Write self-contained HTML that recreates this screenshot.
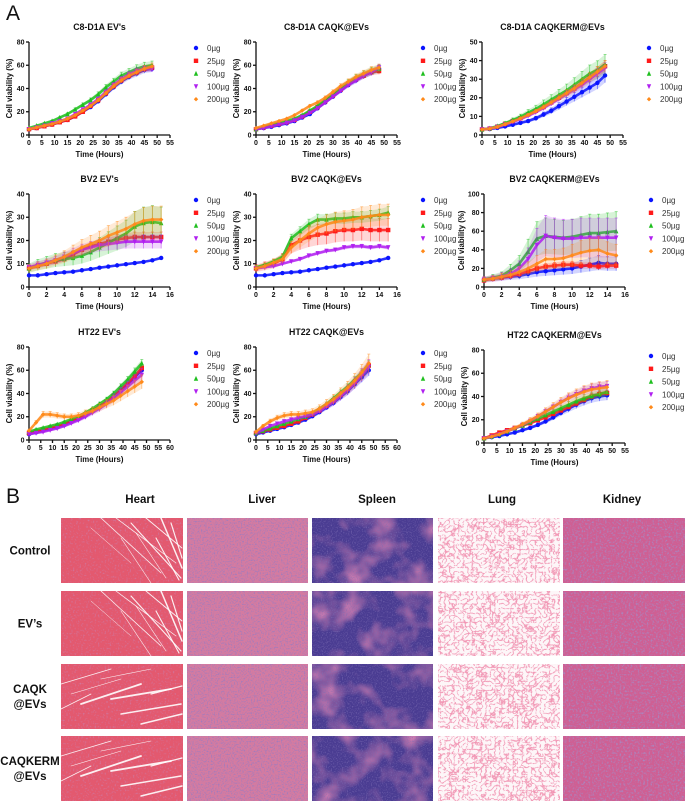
<!DOCTYPE html>
<html><head><meta charset="utf-8"><title>Cell viability and histology</title>
<style>
html,body{margin:0;padding:0;background:#fff;}
svg{display:block;font-family:"Liberation Sans",Arial,sans-serif;}
</style></head>
<body>
<svg id="fig" width="685" height="802" viewBox="0 0 685 802" xmlns="http://www.w3.org/2000/svg">
<defs>
<filter id="fHeart" x="0" y="0" width="1" height="1"><feTurbulence type="fractalNoise" baseFrequency="0.6" numOctaves="1" seed="3"/><feColorMatrix type="matrix" values="0 0 0 0 0.55 0 0 0 0 0.25 0 0 0 0 0.5 2.2 0 0 0 -1.2"/></filter>
<filter id="fLiver" x="0" y="0" width="1" height="1"><feTurbulence type="fractalNoise" baseFrequency="0.7" numOctaves="1" seed="5"/><feColorMatrix type="matrix" values="0 0 0 0 0.3 0 0 0 0 0.2 0 0 0 0 0.55 2.6 0 0 0 -1.2"/></filter>
<filter id="fSpleen" x="0" y="0" width="1" height="1"><feTurbulence type="fractalNoise" baseFrequency="0.035" numOctaves="3" seed="7"/><feColorMatrix type="matrix" values="0 0 0 0 0.68 0 0 0 0 0.22 0 0 0 0 0.45 2.2 0 0 0 -0.95"/></filter>
<filter id="fSpleenN" x="0" y="0" width="1" height="1"><feTurbulence type="fractalNoise" baseFrequency="0.8" numOctaves="1" seed="9"/><feColorMatrix type="matrix" values="0 0 0 0 0.2 0 0 0 0 0.15 0 0 0 0 0.45 2.4 0 0 0 -1.2"/></filter>
<filter id="fLung" x="0" y="0" width="1" height="1"><feTurbulence type="turbulence" baseFrequency="0.22" numOctaves="2" seed="11"/><feColorMatrix type="matrix" values="0 0 0 0 0.88 0 0 0 0 0.3 0 0 0 0 0.45 -5 0 0 0 1.3"/></filter>
<filter id="fKidney" x="0" y="0" width="1" height="1"><feTurbulence type="fractalNoise" baseFrequency="0.55" numOctaves="2" seed="13"/><feColorMatrix type="matrix" values="0 0 0 0 0.35 0 0 0 0 0.28 0 0 0 0 0.6 2.4 0 0 0 -1.15"/></filter>
</defs>
<text x="6" y="20" font-size="21" fill="#111">A</text>
<text x="6" y="503" font-size="21" fill="#111">B</text>
<g id="charts"></g>
<g id="histo"></g>
</svg>
<script>
// ---- shared time axes ----
const t48 = [0,3,6,9,12,15,18,21,24,27,30,33,36,39,42,45,48];
const t15 = [0,1,2,3,4,5,6,7,8,9,10,11,12,13,14,15];
const doseLabels = ["0µg","25µg","50µg","100µg","200µg"];

// ---- C8-D1A EV's ----
const c8ev_0   = [5,6,7.5,9,11,13,16,20,24,29,35,41,46,50,53,56,57];
const c8ev_25  = [5,6,7.5,9,11,13,16,20,25,30,36,42,47,51,54,57,58];
const c8ev_50  = [6,8,10,12,15,18,22,26,30,35,41,46,51,54,57,59,60];
const c8ev_100 = [5,6.5,8,10,12,14,18,22,26,31,37,43,48,52,55,57,57];
const c8ev_200 = [5,6.5,8,9.5,11.5,14,17,21,25,30,36,42,47,51,54,57,59];
// ---- C8-D1A CAQK@EVs ----
const c8cq_0   = [5,6,7,8.5,10,12,15,18,23,28,33,38,43,47,51,54,57];
const c8cq_25  = [5,6.5,8,9.5,11,13,16,20,24,29,34,39,44,48,51,54,55];
const c8cq_50  = [5,7,9,10.5,12,14,17,21,25,30,35,40,45,49,52,55,57];
const c8cq_100 = [5,6,7.5,9,10.5,12.5,15.5,19,23,28,33,38,43,47,51,54,58];
const c8cq_200 = [6,8,10,12,14,17,21,25,28,32,37,42,46,50,53,56,58];
// ---- C8-D1A CAQKERM@EVs ----
const c8ke_0   = [3,3.2,3.8,4.6,5.5,6.5,7.5,9,11,13,15.5,18,20.5,23,25.5,28,32];
const c8ke_25  = [3,3.5,4.5,6,7.5,9,11,13,15,17.5,20,22.5,25,28,31,34,37];
const c8ke_50  = [3,3.6,4.8,6.3,8,9.8,12,14,16.5,19,21.5,24,27,30,33,35,38];
const c8ke_100 = [3,3.4,4.3,5.6,7,8.5,10.3,12.3,14.5,17,19.5,22,24.5,27,30,33,36];
const c8ke_200 = [3,3.4,4.4,5.8,7.3,8.9,10.8,12.8,15,17.5,20,22.5,25,28,31,34,37];
// ---- BV2 EV's ----
const bvev_0   = [5,5,5.5,6,6.3,6.6,7.2,7.7,8.3,8.8,9.3,9.8,10.3,10.8,11.5,12.5];
const bvev_25  = [8,9,10,11,12,14,16,17.5,18.5,19.5,20.5,21,21.5,21.5,21.5,21.5];
const bvev_50  = [8,9.5,10.5,11.5,12,12.5,13.5,15,17,19,21,23,26,27.5,28,27.5];
const bvev_100 = [8.5,9.5,10.5,11.5,13,14.5,16,17,18,18.5,19,19.5,19.5,19.5,19.5,19.5];
const bvev_200 = [8,9,10,11.5,13,15,17,18.5,20,22,23.5,25,27,28.5,29,29];
// ---- BV2 CAQK@EVs ----
const bvcq_0   = [5,5,5.5,6,6.3,6.6,7.2,7.7,8.3,8.8,9.3,9.8,10.3,10.8,11.5,12.5];
const bvcq_25  = [8,9,10,12,18,20,21.5,22.5,23,24,24.5,24.5,25,24.5,24.5,24.5];
const bvcq_50  = [8.5,9.5,11,13,21,24,27,29,29,29.5,29.5,30,30,30.5,31,32];
const bvcq_100 = [8,8.5,9,10,11,12,13.5,14.5,15.5,16,17,17.5,17.5,17,17.5,17];
const bvcq_200 = [8,9,10.5,12,17,20,23,25.5,27,28,28.5,29,30,30.5,31,31];
// ---- BV2 CAQKERM@EVs ----
const bvke_0   = [8,9,10,11,12,14,16,17,18,19,20,22,24,26,25,25];
const bvke_25  = [7,9,10,12,14,17,20,22,23,24,24,23,23,22,23,23];
const bvke_50  = [8,10,12,18,25,38,52,55,54,53,54,56,58,58,59,60];
const bvke_100 = [8,9,11,14,20,30,45,55,53,52,52,53,53,53,53,53];
const bvke_200 = [8,9,11,13,16,20,25,30,30,31,34,37,39,40,36,34];
// ---- HT22 EV's ----
const htev_0   = [5,6.5,8,9.5,11,13,15.5,18,21,24.5,28,32,37,42,48,54,60];
const htev_25  = [6,7.5,9,10.5,12,14,16.5,19,22,25.5,29,33,38,43,49,55,62];
const htev_50  = [7,9,10.5,12,13.5,15.5,18,20.5,23.5,27,31,35,40,46,52,59,66];
const htev_100 = [5,6,7,8.5,10,12,14.5,17,20,23.5,27,31,36,41,46,51,56];
const htev_200 = [8,15,22,22,21,20,20,21,23,25,28,31,34,38,42,46,50];
// ---- HT22 CAQK@EVs ----
const htcq_0   = [5,6.5,8,9.5,11,13,15,17.5,20.5,24,28,32,37,42,48,54,60];
const htcq_25  = [6,7.5,9,10.5,12,14,16,19,22,25.5,29.5,34,39,44,50,57,64];
const htcq_50  = [6,8,10,12,14,16,18,20,23,27,31,36,41,46,52,58,65];
const htcq_100 = [6,9,12,14,16,17.5,19,20.5,22,25,29,33,38,43,49,56,63];
const htcq_200 = [7,12,16,19,21,22,22,23,24,27,31,35,40,45,51,58,66];
// ---- HT22 CAQKERM@EVs ----
const htke_0   = [4,5,6,7.5,9,11,13,15.5,18.5,22,26,29.5,33,36,38.5,40,41];
const htke_25  = [4,6.5,9,11,13,15,17,19.5,22,25,28,31,34,37,40,42,43];
const htke_50  = [4,5.5,7.5,10,12.5,15,18,21,24,27,30,33,36,38.5,40.5,42,44];
const htke_100 = [4,5.5,7.5,10,12.5,15.5,19,23,27,31,35,39,42,45,47,48.5,49];
const htke_200 = [4,5.5,7.5,10,13,16,19.5,23,27,31,35,38.5,41.5,44,46,47,48];

// relative error (SD fraction) per series
const errC8 = [0.05,0.05,0.06,0.05,0.05];
const errC8ke = [0.12,0.08,0.14,0.08,0.08];
const errBVev = [0.04,0.1,0.25,0.15,0.2];
const errBVcq = [0.04,0.2,0.08,0.05,0.15];
const errBVke = [0.3,0.15,0.35,0.4,0.35];
const errHT = [0.08,0.05,0.05,0.1,0.12];
const errHTke = [0.1,0.06,0.08,0.08,0.12];

// tick label arrays
const ticksX55 = [0,5,10,15,20,25,30,35,40,45,50,55];
const ticksX60 = [0,5,10,15,20,25,30,35,40,45,50,55,60];
const ticksX16 = [0,2,4,6,8,10,12,14,16];
const ticksY80 = [0,20,40,60,80];
const ticksY50 = [0,10,20,30,40,50];
const ticksY40 = [0,10,20,30,40];
const ticksY100 = [0,20,40,60,80,100];

const colors = ["#0a14ff","#ff1a1a","#1fbf1f","#b020f0","#ff8a1a"];
const shapes = ["circle","square","tri","itri","diamond"];
const NS = "http://www.w3.org/2000/svg";
const charts = document.getElementById("charts");

function mk(tag, attrs, parent){
  const e = document.createElementNS(NS, tag);
  for (const k in attrs) e.setAttribute(k, attrs[k]);
  parent.appendChild(e);
  return e;
}
function marker(g, shape, x, y, c){
  const s = 2.2;
  let e;
  if (shape==="circle") e = mk("circle",{cx:x,cy:y,r:s,fill:c},g);
  else if (shape==="square") e = mk("rect",{x:x-s,y:y-s,width:2*s,height:2*s,fill:c},g);
  else if (shape==="tri") e = mk("polygon",{points:`${x},${y-s-0.5} ${x-s},${y+s} ${x+s},${y+s}`,fill:c},g);
  else if (shape==="itri") e = mk("polygon",{points:`${x},${y+s+0.5} ${x-s},${y-s} ${x+s},${y-s}`,fill:c},g);
  else e = mk("polygon",{points:`${x},${y-s} ${x+s},${y} ${x},${y+s} ${x-s},${y}`,fill:c},g);
  return e;
}

const panels = [
 {name:"C8-D1A  EV's", px:29, py:42, t:t48, s:[c8ev_0,c8ev_25,c8ev_50,c8ev_100,c8ev_200], err:errC8, xt:ticksX55, yt:ticksY80, key:"c8-ev"},
 {name:"C8-D1A  CAQK@EVs", px:256, py:42, t:t48, s:[c8cq_0,c8cq_25,c8cq_50,c8cq_100,c8cq_200], err:errC8, xt:ticksX55, yt:ticksY80, key:"c8-caqk"},
 {name:"C8-D1A  CAQKERM@EVs", px:482, py:42, t:t48, s:[c8ke_0,c8ke_25,c8ke_50,c8ke_100,c8ke_200], err:errC8ke, xt:ticksX55, yt:ticksY50, key:"c8-caqkerm"},
 {name:"BV2  EV's", px:29, py:194, t:t15, s:[bvev_0,bvev_25,bvev_50,bvev_100,bvev_200], err:errBVev, xt:ticksX16, yt:ticksY40, key:"bv2-ev"},
 {name:"BV2  CAQK@EVs", px:256, py:194, t:t15, s:[bvcq_0,bvcq_25,bvcq_50,bvcq_100,bvcq_200], err:errBVcq, xt:ticksX16, yt:ticksY40, key:"bv2-caqk"},
 {name:"BV2  CAQKERM@EVs", px:484, py:194, t:t15, s:[bvke_0,bvke_25,bvke_50,bvke_100,bvke_200], err:errBVke, xt:ticksX16, yt:ticksY100, key:"bv2-caqkerm"},
 {name:"HT22  EV's", px:29, py:347, t:t48, s:[htev_0,htev_25,htev_50,htev_100,htev_200], err:errHT, xt:ticksX60, yt:ticksY80, key:"ht22-ev"},
 {name:"HT22  CAQK@EVs", px:256, py:347, t:t48, s:[htcq_0,htcq_25,htcq_50,htcq_100,htcq_200], err:errHT, xt:ticksX60, yt:ticksY80, key:"ht22-caqk"},
 {name:"HT22  CAQKERM@EVs", px:484, py:350, t:t48, s:[htke_0,htke_25,htke_50,htke_100,htke_200], err:errHTke, xt:ticksX55, yt:ticksY80, key:"ht22-caqkerm"}
];

panels.forEach(function(p){
  const W = 141, H = 93;
  const xmax = p.xt[p.xt.length-1], ymax = p.yt[p.yt.length-1];
  const X = v => p.px + v / xmax * W;
  const Y = v => p.py + H - v / ymax * H;
  const g = mk("g",{},charts);
  
  
  const ttl = mk("text",{x:p.px+W/2,y:p.py-12,"font-size":8.8,"font-weight":"bold","text-anchor":"middle",fill:"#111"},g);
  ttl.textContent = p.name;
  
  
  const ax = mk("g",{stroke:"#111","stroke-width":1.3,fill:"none"},g);
  
  
  mk("line",{x1:p.px,y1:p.py,x2:p.px,y2:p.py+H+0.6},ax);
  mk("line",{x1:p.px-0.6,y1:p.py+H,x2:p.px+W,y2:p.py+H},ax);
  p.xt.forEach(function(v){
    mk("line",{x1:X(v),y1:p.py+H,x2:X(v),y2:p.py+H+3},ax);
    const tl = mk("text",{x:X(v),y:p.py+H+10,"font-size":7,"font-weight":"bold","text-anchor":"middle",fill:"#111",stroke:"none"},g);
    tl.textContent = v;
    
    
  });
  p.yt.forEach(function(v){
    mk("line",{x1:p.px-3,y1:Y(v),x2:p.px,y2:Y(v)},ax);
    const tl = mk("text",{x:p.px-4.5,y:Y(v)+2.4,"font-size":7,"font-weight":"bold","text-anchor":"end",fill:"#111"},g);
    tl.textContent = v;
    
    
  });
  const xl = mk("text",{x:p.px+W/2,y:p.py+H+22,"font-size":7.8,"font-weight":"bold","text-anchor":"middle",fill:"#111"},g);
  xl.textContent = "Time (Hours)";
  
  
  const ylx = p.px - (ymax>=100?20:17), yly = p.py + H/2;
  const yl = mk("text",{x:ylx,y:yly,"font-size":7.8,"font-weight":"bold","text-anchor":"middle",fill:"#111",transform:`rotate(-90 ${ylx} ${yly})`},g);
  yl.textContent = "Cell viability (%)";
  
  
  p.s.forEach(function(vals, i){
    const c = colors[i];
    const sg = mk("g",{},g);
    
    
    const up = [], dn = [];
    vals.forEach(function(v, j){ const e = v*p.err[i]; up.push(X(p.t[j])+","+Y(v+e)); dn.unshift(X(p.t[j])+","+Y(Math.max(0,v-e))); });
    mk("polygon",{points:up.concat(dn).join(" "),fill:c,"fill-opacity":0.18,stroke:"none"},sg);
    vals.forEach(function(v, j){
      const e = v*p.err[i], x = X(p.t[j]);
      mk("line",{x1:x,y1:Y(v+e),x2:x,y2:Y(Math.max(0,v-e)),stroke:c,"stroke-opacity":0.55,"stroke-width":0.8},sg);
      mk("line",{x1:x-1.5,y1:Y(v+e),x2:x+1.5,y2:Y(v+e),stroke:c,"stroke-opacity":0.55,"stroke-width":0.8},sg);
    });
    mk("polyline",{points:vals.map((v,j)=>X(p.t[j])+","+Y(v)).join(" "),fill:"none",stroke:c,"stroke-width":2.6,"stroke-opacity":0.85},sg);
    vals.forEach(function(v, j){
      const m = marker(sg, shapes[i], X(p.t[j]), Y(v), c);
      
      
    });
  });
  const lg = mk("g",{},g);
  
  
  const lx = p.px + 167, ly = p.py + 6;
  doseLabels.forEach(function(lab, i){
    const eg = mk("g",{},lg);
    
    
    marker(eg, shapes[i], lx, ly + i*12.8, colors[i]);
    const tx = mk("text",{x:lx+11,y:ly+i*12.8+3,"font-size":8,fill:"#333"},eg);
    tx.textContent = lab;
  });
});

// ---- Histology panels ----
const histo = document.getElementById("histo");
const colX = [61,187,312,438,563];
const colW = [122,121,121,122,122];
const rowY = [518,591,664,736];
const rowH = 65;
const organs = ["Heart","Liver","Spleen","Lung","Kidney"];
const groups = [["Control"],["EV’s"],["CAQK","@EVs"],["CAQKERM","@EVs"]];
const heads = [140,262,377,502,622];
organs.forEach(function(o,i){
  const t = mk("text",{x:heads[i],y:503,"font-size":11.5,"font-weight":"bold","text-anchor":"middle",fill:"#111"},histo);
  t.textContent = o;
  
  
});
groups.forEach(function(lines,r){
  const cy = rowY[r] + rowH/2;
  lines.forEach(function(l,k){
    const t = mk("text",{x:30,y:cy + 4 + (k - (lines.length-1)/2)*15,"font-size":11.5,"font-weight":"bold","text-anchor":"middle",fill:"#111"},histo);
    t.textContent = l;
    
    
  });
});
const base = ["#e3596f","#d57ba0","#4a3c92","#fdf6f8","#cf5f93"];
const filt = ["fHeart","fLiver","fSpleen","fLung","fKidney"];
rowY.forEach(function(y,r){
  colX.forEach(function(x,c){
    const w = colW[c];
    const g = mk("g",{},histo);
    
    
    mk("rect",{x:x,y:y,width:w,height:rowH,fill:base[c]},g);
    mk("rect",{x:x,y:y,width:w,height:rowH,filter:`url(#${filt[c]})`},g);
    if (c===2) mk("rect",{x:x,y:y,width:w,height:rowH,filter:"url(#fSpleenN)"},g);
    if (c===0){
      const sg = mk("g",{stroke:"#fff","stroke-linecap":"round",fill:"none","stroke-opacity":0.9},g);
      const streaks = r<2 ?
        [[40,0,100,55,0.8],[55,0,115,45,0.7],[70,5,120,60,1.1],[85,0,121,30,0.9],[100,0,121,50,1.5],[60,20,90,65,0.6],[30,10,70,45,0.5],[95,20,118,62,1.1],[75,15,105,60,0.6],[110,5,121,40,1.2]] :
        [[0,20,50,5,0.9],[20,40,80,20,1.8],[50,35,110,25,1.8],[60,50,120,40,1.5],[80,60,121,50,1.5],[0,45,30,30,0.8],[40,15,90,5,0.6],[90,30,121,22,1.2],[10,30,60,15,0.6]];
      streaks.forEach(s=>mk("line",{x1:x+s[0],y1:y+s[1],x2:x+s[2],y2:y+s[3],"stroke-width":s[4]},sg));
    }
  });
});
</script>
</body></html>
